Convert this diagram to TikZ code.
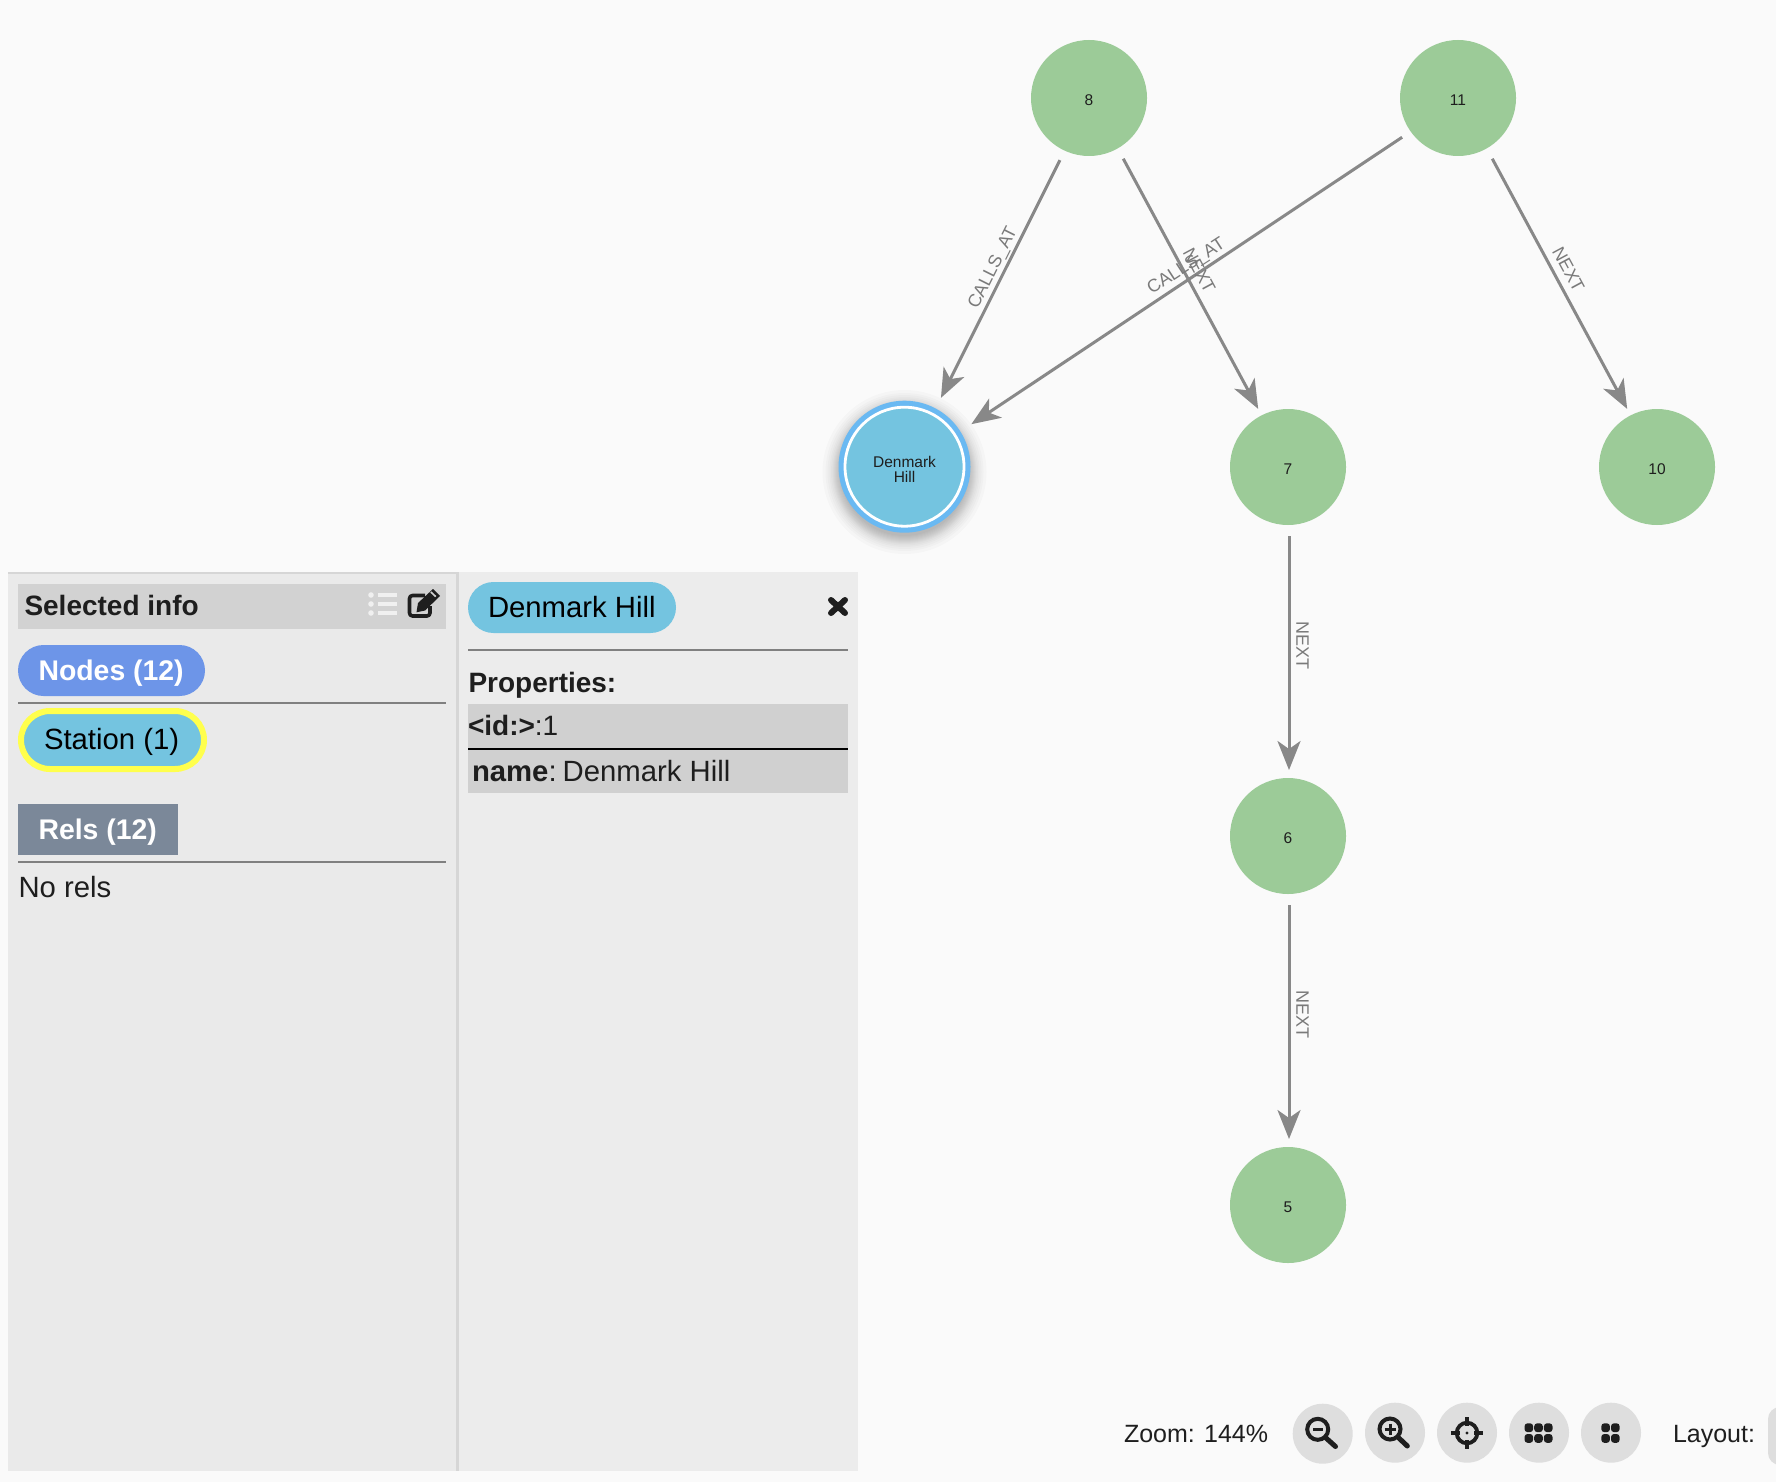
\documentclass[tikz,border=0pt]{standalone}
\usepackage{fontspec}
\setmainfont{Liberation Sans}
\usetikzlibrary{arrows.meta}
\definecolor{bgc}{HTML}{FAFAFA}
\definecolor{greenn}{HTML}{9CCB98}
\definecolor{bluen}{HTML}{74C4E0}
\definecolor{ringc}{HTML}{6AB9F2}
\definecolor{edgec}{HTML}{888888}
\definecolor{panela}{HTML}{EAEAEA}
\definecolor{panelb}{HTML}{ECECEC}
\definecolor{headc}{HTML}{D2D2D2}
\definecolor{rowc}{HTML}{D0D0D0}
\definecolor{inkc}{HTML}{1E1E1E}
\definecolor{btnc}{HTML}{DEDEDE}
\definecolor{nodepill}{HTML}{6D95E8}
\definecolor{relpill}{HTML}{7B8899}
\definecolor{yellowc}{HTML}{FFFF4D}
\newcommand{\fs}[1]{\fontsize{#1}{#1}\selectfont}
\newcommand{\nlab}[1]{\raisebox{-7.8pt}[0pt][0pt]{#1}}
\tikzset{
  gnode/.style={circle,fill=greenn,minimum size=116pt,inner sep=0pt,outer sep=0pt,font=\fs{15.5},text=inkc},
  edge/.style={draw=edgec,line width=3pt,-{Stealth[length=29pt,width=23pt,inset=8pt]},shorten <=11pt,shorten >=8pt},
  elabel/.style={font=\fs{18},text=edgec!90!black,inner sep=0pt},
  txt/.style={anchor=base west,inner sep=0pt,outer sep=0pt,font=\fs{29.3},text=inkc},
  btxt/.style={txt,font=\fs{28.4}\bfseries},
  zoomtxt/.style={txt,font=\fs{25}},
  btn/.style={circle,fill=btnc,minimum size=60pt,inner sep=0pt},
  sep/.style={draw=black!50,line width=2pt},
  ico/.style={draw=inkc,line width=4pt},
  dotc/.style={fill=inkc,rounded corners=3pt},
  sx/.style={transform canvas={xshift=#1}}
}
\begin{document}
\begin{tikzpicture}[x=1pt,y=-1pt]
\useasboundingbox (0,0) rectangle (1776,1482);
\fill[bgc] (0,0) rectangle (1776,1482);
% shadow
\foreach \r in {64,65,66,67,68,69,70,71,72,73.5,75,77,79,82}{\fill[black,opacity=0.02] (904.5,472) circle[radius=\r];}
% graph nodes
\node[gnode] (n8) at (1089,98) {\nlab{8}};
\node[gnode] (n11) at (1458,98) {\nlab{11}};
\node[gnode] (n7) at (1288,467) {\nlab{7}};
\node[gnode] (n10) at (1657,467) {\nlab{10}};
\node[gnode] (n6) at (1288,836) {\nlab{6}};
\node[gnode] (n5) at (1288,1205) {\nlab{5}};
\node[circle,fill=ringc,minimum size=132pt,inner sep=0pt,outer sep=0pt] (dhring) at (904.5,466.7) {};
\node[circle,draw=white,fill=bluen,line width=2.8pt,minimum size=119pt,inner sep=0pt,outer sep=0pt] (dh) at (904.5,466.7) {};
\node[inner sep=0pt,font=\fontsize{15.5}{15}\selectfont,text=inkc,align=center] (dhlabel) at (904.5,469) {Denmark\\Hill};
% edges
\draw[edge,sx=2pt,shorten >=11pt,shorten <=11.5pt] (n8) -- (dhring);
\draw[edge,transform canvas={xshift=1.5pt,yshift=-1pt},shorten >=12.5pt,shorten <=11pt] (n11) -- (dhring);
\draw[edge,sx=1.5pt] (n8) -- (n7);
\draw[edge,sx=1.5pt] (n11) -- (n10);
\draw[edge,sx=1pt] (n7) -- (n6);
\draw[edge,sx=1pt] (n6) -- (n5);
% edge labels
\node[elabel,rotate=63.4] (l1) at (993.5,268) {CALLS\_AT};
\node[elabel,rotate=33] (l2) at (1186.7,267) {CALLS\_AT};
\node[elabel,rotate=-61.7] (l3) at (1199.3,270.3) {NEXT};
\node[elabel,rotate=-61.7] (l4) at (1568.5,269.5) {NEXT};
\node[elabel,rotate=-90] (l5) at (1302.5,645.5) {NEXT};
\node[elabel,rotate=-90] (l6) at (1302.5,1014.7) {NEXT};
% panels
\fill[panela] (8,572) rectangle (457,1471);
\fill[panelb] (458,572) rectangle (858,1471);
\fill[black!16] (8,572) rectangle (457,574);
\fill[black!16] (456,572) rectangle (458.5,1471);
% left panel
\fill[headc] (18,584) rectangle (446,629);
\node[btxt,font=\fs{28}\bfseries] (seltxt) at (24.5,615.5) {Selected info};
% list icon
\foreach \yy in {595,604,613}{
  \fill[white!94!black] (371,\yy) circle[radius=2.8];
  \fill[white!94!black] (377.5,\yy-1.8) rectangle (397,\yy+1.8);
}
% edit icon
\draw[inkc,line width=3.6pt,rounded corners=3pt,line join=round] (430,606) -- (430,616) -- (409.5,616) -- (409.5,595.5) -- (425,595.5);
\fill[inkc] (418,603) -- (433,589) -- (440,596) -- (425,610.5) -- (416.5,612.3) -- cycle;
\fill[headc] (430.3,592.6) -- (431.5,591.4) -- (436.3,596) -- (435.1,597.2) -- cycle;
% pills
\fill[nodepill,rounded corners=25.5pt] (18,645) rectangle (205,696);
\node[btxt,text=white] (nodestxt) at (38.5,680) {Nodes (12)};
\draw[sep] (18,703) -- (446,703);
\filldraw[fill=bluen,draw=yellowc,line width=6pt,rounded corners=29pt] (21,711) rectangle (204,769);
\node[txt,text=black] (stationtxt) at (44,749) {Station (1)};
\fill[relpill] (18,804) rectangle (178,855);
\node[btxt,text=white] (relstxt) at (38.5,839) {Rels (12)};
\draw[sep] (18,862) -- (446,862);
\node[txt] (norels) at (18.5,897.5) {No rels};
% right panel
\fill[bluen,rounded corners=25.5pt] (468,582) rectangle (676,633);
\node[txt,text=black] (dhtxt) at (488,617) {Denmark Hill};
\draw[inkc,line width=6pt,line cap=round] (831,600) -- (845,613) (845,600) -- (831,613);
\draw[sep] (468,650) -- (848,650);
\node[btxt,font=\fs{28}\bfseries] (props) at (468.5,692) {Properties:};
\fill[rowc] (468,704) rectangle (848,748);
\fill[rowc] (468,750) rectangle (848,793);
\draw[black,line width=2pt] (468,749) -- (848,749);
\node[txt,font=\fs{28}] (idtxt) at (468,735) {\textbf{<id:>}:1};
\node[txt] (nametxt) at (472,781) {\textbf{name}:\hspace{6pt}Denmark Hill};
% toolbar
\node[zoomtxt] (zoomlab) at (1124,1442) {Zoom: 144\%};
\node[zoomtxt] (layoutlab) at (1673,1442) {Layout:};
\node[btn] (b1) at (1322.7,1433.7) {};
\node[btn] (b2) at (1395,1432.7) {};
\node[btn] (b3) at (1467,1432.7) {};
\node[btn] (b4) at (1539,1432.7) {};
\node[btn] (b5) at (1611,1432.7) {};
\fill[btnc,rounded corners=12pt] (1768,1407) rectangle (1800,1465);
% zoom out
\draw[ico] (1317.7,1429.3) circle[radius=10.5];
\draw[inkc,line width=5pt,line cap=round] (1326,1438) -- (1335.5,1446.5);
\draw[inkc,line width=3pt] (1313,1429.3) -- (1322.7,1429.3);
% zoom in
\draw[ico] (1390,1429) circle[radius=10.5];
\draw[inkc,line width=5pt,line cap=round] (1398.3,1437.5) -- (1407.3,1446);
\draw[inkc,line width=3pt] (1384.5,1429) -- (1395.5,1429) (1390,1423.5) -- (1390,1434.5);
% target
\draw[inkc,line width=3.8pt] (1467,1433) circle[radius=10.3];
\draw[inkc,line width=4.5pt] (1467,1417) -- (1467,1426) (1467,1440) -- (1467,1449) (1451,1433) -- (1460,1433) (1474,1433) -- (1483,1433);
\fill[inkc] (1467,1433) circle[radius=1.7];
% grid 6
\foreach \xx in {1524.5,1534.2,1543.9}{\foreach \yy in {1423.3,1434}{\fill[dotc] (\xx,\yy) rectangle (\xx+8.6,\yy+8.8);}}
% grid 4
\foreach \xx in {1601.3,1611}{\foreach \yy in {1423.3,1434}{\fill[dotc] (\xx,\yy) rectangle (\xx+8.6,\yy+8.8);}}
\end{tikzpicture}
\end{document}
